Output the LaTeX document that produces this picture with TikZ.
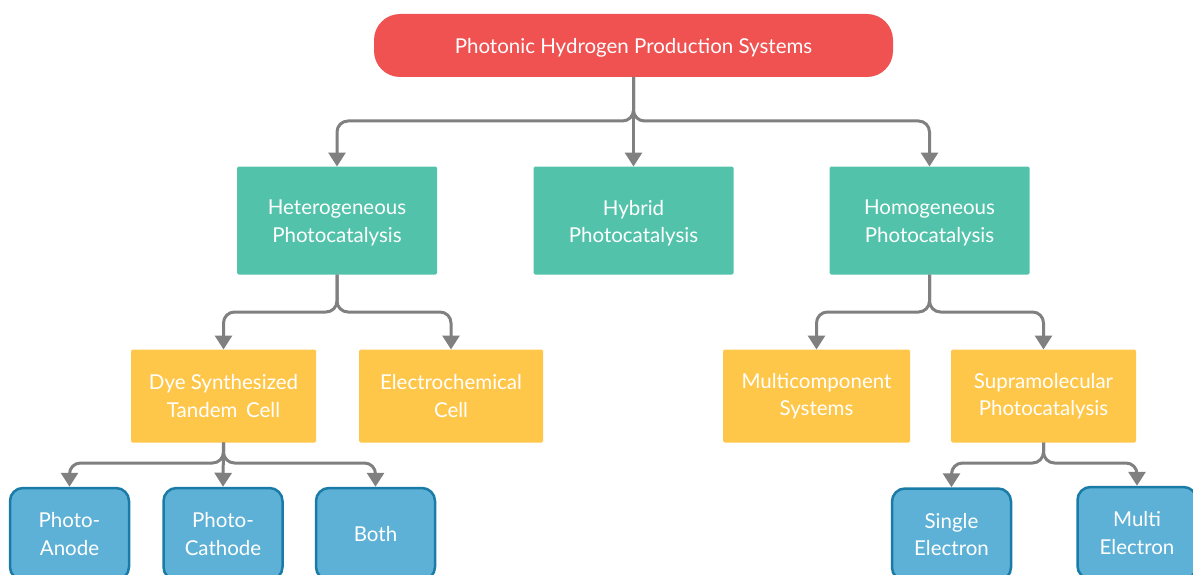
\documentclass[tikz,border=0pt]{standalone}
\usepackage{fontspec}
\setmainfont{Lato}
\usetikzlibrary{arrows.meta}
\definecolor{cred}{HTML}{F05252}
\definecolor{cteal}{HTML}{52C3AA}
\definecolor{cyel}{HTML}{FFC749}
\definecolor{cblue}{HTML}{5EB1D6}
\definecolor{cbord}{HTML}{1B7BA7}
\definecolor{cgray}{HTML}{808080}
\begin{document}
\begin{tikzpicture}[x=1pt,y=-1pt,
  base/.style={inner sep=0pt, outer sep=0pt, text=white, align=center, font=\fontsize{20.5}{27.5}\selectfont},
  lbl/.style={inner sep=0pt, text=white, align=center, font=\fontsize{20.5}{27.5}\selectfont, yshift=-2.5pt},
  rootbox/.style={base, fill=cred, rounded corners=26pt, minimum width=519pt, minimum height=63pt},
  tealbox/.style={base, fill=cteal, rounded corners=1.5pt, minimum width=200pt, minimum height=108pt},
  yelbox/.style={base, fill=cyel, rounded corners=1.5pt, minimum height=93pt},
  bluebox/.style={base, fill=cblue, draw=cbord, line width=2.5pt, rounded corners=13pt, minimum width=119pt, minimum height=92pt, outer sep=1.25pt},
  arr/.style={draw=cgray, line width=3pt, rounded corners=11pt, -{Triangle[width=17pt,length=14pt]}}
]
\useasboundingbox (0,0) rectangle (1193,575);
\clip (0,0) rectangle (1193,575);
\node[rootbox, label={[lbl]center:Photonic Hydrogen Production Systems}] (root) at (633.5,45.5) {};
\node[tealbox, label={[lbl]center:Heterogeneous\\Photocatalysis}] (het) at (337,220.5) {};
\node[tealbox, label={[lbl]center:Hybrid\\Photocatalysis}] (hyb) at (633.5,220.5) {};
\node[tealbox, label={[lbl]center:Homogeneous\\Photocatalysis}] (hom) at (929.5,220.5) {};
\node[yelbox, minimum width=185pt] (dye) at (223.5,396) {Dye Synthesized\\Tandem\ \,Cell};
\node[yelbox, minimum width=184pt] (ele) at (451,396) {Electrochemical\\Cell};
\node[yelbox, minimum width=187pt] (mul) at (816.5,396) {Multicomponent\\Systems};
\node[yelbox, minimum width=185pt] (sup) at (1043.5,396) {Supramolecular\\Photocatalysis};
\node[bluebox] (ano) at (69.5,534) {Photo-\\Anode};
\node[bluebox] (cat) at (223,534) {Photo-\\Cathode};
\node[bluebox] (both) at (375.5,534) {Both};
\node[bluebox] (sin) at (951.5,534.5) {Single\\Electron};
\node[bluebox] (mue) at (1137,533) {Multi\\Electron};
\coordinate (j1) at (633.5,121);
\coordinate (j2) at (337,312);
\coordinate (j3) at (929.5,312);
\coordinate (j4) at (223.5,463);
\coordinate (j5) at (1043.5,463);
\draw[arr] (root.south) -- (j1) -| (het.north);
\draw[arr] (root.south) -- (hyb.north);
\draw[arr] (root.south) -- (j1) -| (hom.north);
\draw[arr] (het.south) -- (j2) -| (dye.north);
\draw[arr] (het.south) -- (j2) -| (ele.north);
\draw[arr] (hom.south) -- (j3) -| (mul.north);
\draw[arr] (hom.south) -- (j3) -| (sup.north);
\draw[arr] (dye.south) -- (j4) -| (ano.north);
\draw[arr] (dye.south) -- (cat.north);
\draw[arr] (dye.south) -- (j4) -| (both.north);
\draw[arr] (sup.south) -- (j5) -| (sin.north);
\draw[arr] (sup.south) -- (j5) -| (mue.north);
\end{tikzpicture}
\end{document}
